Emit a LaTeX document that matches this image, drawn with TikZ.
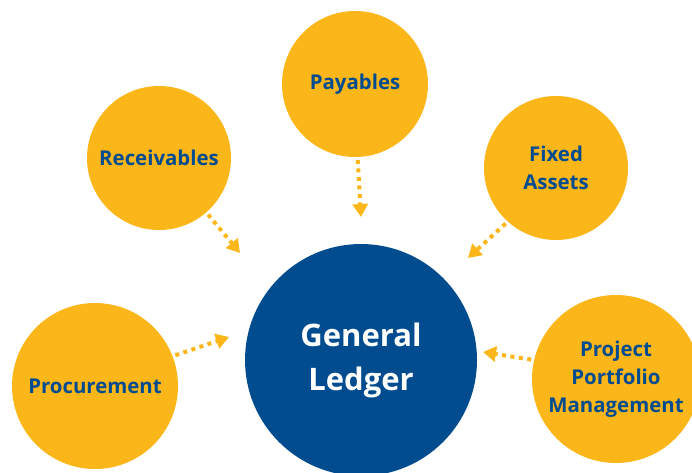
\documentclass[tikz,border=0pt]{standalone}
\usepackage{fontspec}
\setmainfont{Open Sans}
\usetikzlibrary{arrows.meta}
\definecolor{ledgerblue}{HTML}{004C8F}
\definecolor{modorange}{HTML}{FBB61A}
\tikzset{
  module/.style={circle, fill=modorange, text=ledgerblue, inner sep=0pt, outer sep=0pt,
    align=center, font=\fontsize{20.4}{28}\selectfont\bfseries},
  ledger/.style={circle, fill=ledgerblue, text=white, inner sep=0pt, outer sep=0pt,
    minimum size=232pt, align=center, font=\fontsize{31}{44}\selectfont\bfseries},
  flow/.style={modorange, line width=4pt, dash pattern=on 4pt off 4.5pt,
    -{Triangle[length=13pt,width=15pt]}, shorten <=3pt}
}
\begin{document}
\begin{tikzpicture}[x=1pt, y=-1pt]
\useasboundingbox (0,0) rectangle (692,472);
% ledger in the middle
\node[ledger] (gl) at (361,360) {General\\Ledger};
% modules round it
\node[module, minimum size=144pt] (rec) at (159,158) {Receivables};
\node[module, minimum size=146pt] (pay) at (355,84) {Payables};
\node[module, minimum size=144pt] (fix) at (556,168) {Fixed\\Assets};
\node[module, minimum size=166pt] (proc) at (95,386) {Procurement};
\node[module, minimum size=168pt] (ppm) at (616,379) {Project\\Portfolio\\Management};
% arrow ends
\coordinate (recin) at (240,253);
\coordinate (payin) at (361,217);
\coordinate (fixin) at (468,258);
\coordinate (procin) at (229,337);
\coordinate (ppmin) at (483,352);
\draw[flow] (rec.-49) -- (recin);
\draw[flow] (pay.-88) -- (payin);
\draw[flow] (fix.228) -- (fixin);
\draw[flow] (proc.21) -- (procin);
\draw[flow] (ppm.167) -- (ppmin);
\end{tikzpicture}
\end{document}
